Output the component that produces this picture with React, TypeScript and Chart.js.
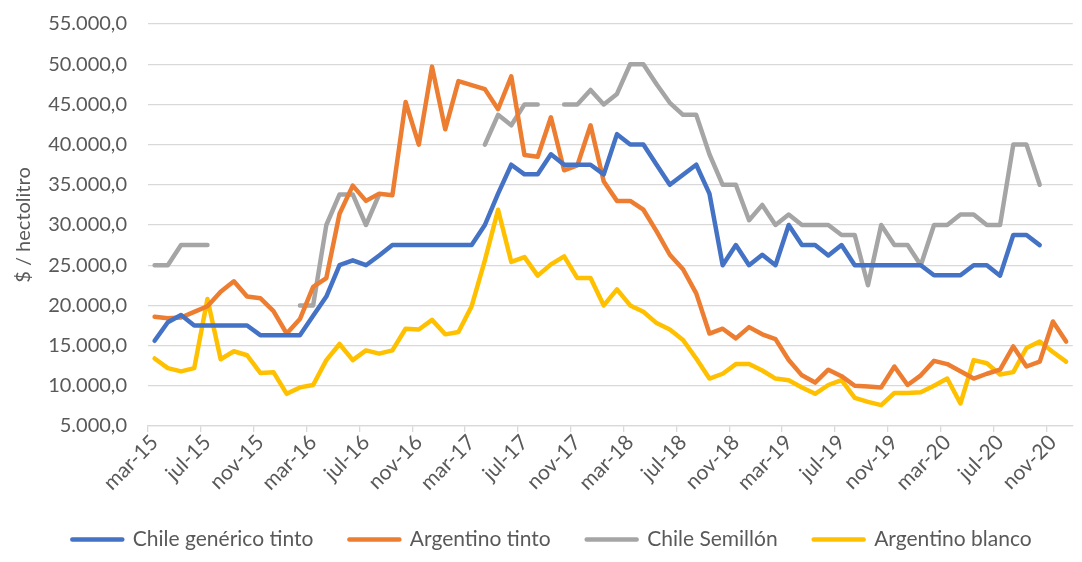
import React, { useEffect, useRef } from 'react';
import { Chart, registerables } from 'chart.js';

Chart.register(...registerables);

const months: string[] = [
  'mar-15', 'abr-15', 'may-15', 'jun-15', 'jul-15', 'ago-15', 'sep-15', 'oct-15', 'nov-15', 'dic-15',
  'ene-16', 'feb-16', 'mar-16', 'abr-16', 'may-16', 'jun-16', 'jul-16', 'ago-16', 'sep-16', 'oct-16', 'nov-16', 'dic-16',
  'ene-17', 'feb-17', 'mar-17', 'abr-17', 'may-17', 'jun-17', 'jul-17', 'ago-17', 'sep-17', 'oct-17', 'nov-17', 'dic-17',
  'ene-18', 'feb-18', 'mar-18', 'abr-18', 'may-18', 'jun-18', 'jul-18', 'ago-18', 'sep-18', 'oct-18', 'nov-18', 'dic-18',
  'ene-19', 'feb-19', 'mar-19', 'abr-19', 'may-19', 'jun-19', 'jul-19', 'ago-19', 'sep-19', 'oct-19', 'nov-19', 'dic-19',
  'ene-20', 'feb-20', 'mar-20', 'abr-20', 'may-20', 'jun-20', 'jul-20', 'ago-20', 'sep-20', 'oct-20', 'nov-20', 'dic-20',
];

const chileTinto: (number | null)[] = [
  15600, 17900, 18800, 17500, 17500, 17500, 17500, 17500, 16300, 16300,
  16300, 16300, 18700, 21100, 25000, 25600, 25000, 26200, 27500, 27500, 27500, 27500,
  27500, 27500, 27500, 30000, 33900, 37500, 36300, 36300, 38800, 37500, 37500, 37500,
  36300, 41300, 40000, 40000, 37500, 35000, 36250, 37500, 33900, 25000, 27500, 25000,
  26300, 25000, 30000, 27500, 27500, 26200, 27500, 25000, 25000, 25000, 25000, 25000,
  25000, 23750, 23750, 23750, 25000, 25000, 23700, 28750, 28750, 27500, null, null,
];

const argentinoTinto: (number | null)[] = [
  18600, 18400, 18500, 19200, 19900, 21700, 23000, 21100, 20900, 19300,
  16500, 18300, 22300, 23400, 31400, 34900, 33000, 33900, 33700, 45300, 40000, 49700,
  41900, 47900, 47400, 46900, 44400, 48500, 38700, 38500, 43400, 36800, 37400, 42400,
  35400, 33000, 33000, 31900, 29200, 26300, 24500, 21500, 16500, 17100, 15900, 17300,
  16400, 15800, 13200, 11300, 10400, 12000, 11200, 10000, 9900, 9800, 12400, 10100,
  11300, 13100, 12700, 11800, 10900, 11500, 12000, 14900, 12400, 13000, 18000, 15500,
];

const chileSemillon: (number | null)[] = [
  25000, 25000, 27500, 27500, 27500, null, null, null, null, null,
  null, 20000, 20000, 30000, 33800, 33800, 30000, 33800, null, null, null, null,
  null, null, null, 40000, 43700, 42400, 45000, 45000, null, 45000, 45000, 46800,
  45000, 46300, 50000, 50000, 47500, 45200, 43700, 43700, 38800, 35000, 35000, 30600,
  32500, 30000, 31300, 30000, 30000, 30000, 28750, 28750, 22500, 30000, 27500, 27500,
  25000, 30000, 30000, 31300, 31300, 30000, 30000, 40000, 40000, 35000, null, null,
];

const argentinoBlanco: (number | null)[] = [
  13400, 12200, 11800, 12200, 20800, 13300, 14300, 13800, 11600, 11700,
  9000, 9800, 10100, 13200, 15200, 13200, 14400, 14000, 14400, 17100, 17000, 18200,
  16400, 16700, 19900, 25600, 31900, 25400, 26000, 23700, 25100, 26100, 23400, 23400,
  20000, 22000, 20000, 19200, 17800, 17000, 15700, 13400, 10900, 11500, 12700, 12700,
  11900, 10900, 10700, 9800, 9000, 10100, 10700, 8500, 8000, 7600, 9100, 9100,
  9200, 10000, 10900, 7800, 13200, 12800, 11400, 11700, 14700, 15500, 14200, 13000,
];

const seriesNames: string[] = ['Chile genérico tinto', 'Argentino tinto', 'Chile Semillón', 'Argentino blanco'];
const seriesColors: string[] = ['#4472C4', '#ED7D31', '#A5A5A5', '#FFC000'];

const yMin = 5000;
const yMax = 55000;
const yStep = 5000;
const yTitle = '$ / hectolitro';

const FONT = "Lato, 'Open Sans', sans-serif";
const TEXT_COLOR = '#595959';
const GRID_COLOR = '#D9D9D9';

function fmt(v: number): string {
  const s = Math.round(v).toString().replace(/\B(?=(\d{3})+(?!\d))/g, '.');
  return s + ',0';
}

const legendShift = {
  id: 'legendShift',
  afterLayout(chart: any) {
    const lg = chart.legend;
    if (lg) {
      lg.left += 15;
      lg.right += 15;
    }
  },
};

export default function App() {
  const ref = useRef<HTMLCanvasElement | null>(null);

  useEffect(() => {
    if (!ref.current) return;
    const all = [chileTinto, argentinoTinto, chileSemillon, argentinoBlanco];
    const chart = new Chart(ref.current, {
      type: 'line',
      data: {
        labels: months,
        datasets: all.map((d, i) => ({
          label: seriesNames[i],
          data: d,
          borderColor: seriesColors[i],
          backgroundColor: seriesColors[i],
          borderWidth: 4.5,
          borderCapStyle: 'round',
          borderJoinStyle: 'round',
          pointRadius: 0,
          tension: 0,
          spanGaps: false,
        })),
      },
      options: {
        responsive: false,
        animation: false,
        devicePixelRatio: 1,
        layout: { padding: { left: 0, right: 8, top: 24, bottom: 2 } },
        plugins: {
          tooltip: { enabled: false },
          legend: {
            position: 'bottom',
            align: 'center',
            labels: {
              boxWidth: 50,
              boxHeight: 0,
              padding: 36,
              color: TEXT_COLOR,
              font: { family: FONT, size: 21 },
            },
          },
        },
        scales: {
          x: {
            type: 'category',
            offset: true,
            grid: {
              offset: true,
              drawOnChartArea: false,
              drawTicks: true,
              tickLength: 6,
              lineWidth: 1.3,
              color: (c: any) => (c.index !== undefined && c.index % 4 === 0 ? GRID_COLOR : 'rgba(0,0,0,0)'),
            },
            border: { display: true, color: GRID_COLOR, width: 1.3 },
            ticks: {
              autoSkip: false,
              minRotation: 45,
              maxRotation: 45,
              padding: -2,
              color: TEXT_COLOR,
              font: { family: FONT, size: 21 },
              callback: (_v: any, i: number) => (i % 4 === 0 ? months[i] : ''),
            },
            afterFit: (s: any) => {
              s.height = 67;
            },
          },
          y: {
            min: yMin,
            max: yMax,
            border: { display: false },
            grid: {
              color: GRID_COLOR,
              lineWidth: 1.3,
              drawTicks: true,
              tickLength: 21,
              tickColor: 'rgba(0,0,0,0)',
            },
            ticks: {
              stepSize: yStep,
              padding: 0,
              color: TEXT_COLOR,
              font: { family: FONT, size: 20 },
              callback: (v: any) => fmt(Number(v)),
            },
            title: {
              display: true,
              text: yTitle,
              color: TEXT_COLOR,
              font: { family: FONT, size: 20 },
              padding: { top: 12, bottom: 0 },
            },
            afterFit: (s: any) => {
              s.width = 148;
            },
          },
        },
      },
      plugins: [legendShift],
    } as any);
    return () => chart.destroy();
  }, []);

  return (
    <div style={{ position: 'fixed', left: 0, top: 0, width: 1082, height: 562, background: '#fff' }}>
      <canvas ref={ref} width={1082} height={562} style={{ display: 'block' }} />
    </div>
  );
}
